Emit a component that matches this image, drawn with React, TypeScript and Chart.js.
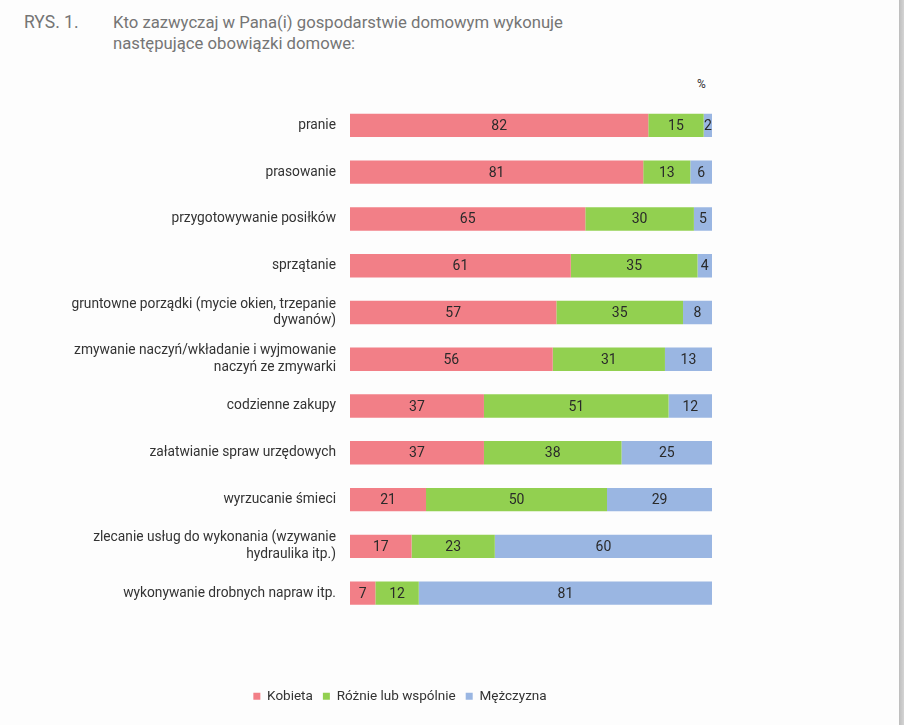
import React, { useEffect, useRef } from "react";
import { Chart, registerables } from "chart.js";

Chart.register(...registerables);

const categories: (string | string[])[] = [
  "pranie",
  "prasowanie",
  "przygotowywanie posiłków",
  "sprzątanie",
  ["gruntowne porządki (mycie okien, trzepanie", "dywanów)"],
  ["zmywanie naczyń/wkładanie i wyjmowanie", "naczyń ze zmywarki"],
  "codzienne zakupy",
  "załatwianie spraw urzędowych",
  "wyrzucanie śmieci",
  ["zlecanie usług do wykonania (wzywanie", "hydraulika itp.)"],
  "wykonywanie drobnych napraw itp.",
];

const kobieta = [82.4, 81, 65, 61, 57, 56, 37, 37, 21, 17, 7];
const roznie = [15.3, 13, 30, 35, 35, 31, 51, 38, 50, 23, 12];
const mezczyzna = [2.3, 6, 5, 4, 8, 13, 12, 25, 29, 60, 81];

const seriesNames = ["Kobieta", "Różnie lub wspólnie", "Mężczyzna"];
const seriesColors = ["#f27f87", "#92d050", "#9ab6e2"];

const FONT = "Roboto, 'Noto Sans', sans-serif";

const valueLabels = {
  id: "valueLabels",
  afterDatasetsDraw(chart: any) {
    const ctx = chart.ctx;
    ctx.save();
    ctx.font = `14px ${FONT}`;
    ctx.fillStyle = "#2a2a2a";
    ctx.textAlign = "center";
    ctx.textBaseline = "middle";
    chart.data.datasets.forEach((ds: any, di: number) => {
      const meta = chart.getDatasetMeta(di);
      meta.data.forEach((bar: any, i: number) => {
        const v = ds.data[i];
        const cx = (bar.x + bar.base) / 2;
        ctx.fillText(String(Math.round(v)), cx, bar.y + 1);
      });
    });
    ctx.restore();
  },
};

const legendShift = {
  id: "legendShift",
  afterLayout(chart: any) {
    if (chart.legend) {
      chart.legend.left = 88;
      chart.legend.right = 712;
    }
  },
};

export default function App() {
  const ref = useRef<HTMLCanvasElement | null>(null);
  useEffect(() => {
    if (!ref.current) return;
    const data = [kobieta, roznie, mezczyzna];
    const chart = new Chart(ref.current, {
      type: "bar",
      data: {
        labels: categories as any,
        datasets: seriesNames.map((n, i) => ({
          label: n,
          data: data[i],
          backgroundColor: seriesColors[i],
          borderWidth: 0,
          barPercentage: 0.5,
          categoryPercentage: 1,
        })),
      },
      options: {
        indexAxis: "y",
        animation: false,
        responsive: false,
        maintainAspectRatio: false,
        layout: { padding: { left: 0, right: 192, top: 102, bottom: 12 } },
        scales: {
          x: {
            stacked: true,
            min: 0,
            max: 100,
            display: true,
            grid: { display: false, drawTicks: false },
            border: { display: false },
            ticks: { display: false },
            afterFit: (s: any) => {
              s.height = 63;
            },
          },
          y: {
            stacked: true,
            grid: { display: false, drawTicks: false },
            border: { display: false },
            ticks: {
              padding: 14,
              color: "#333333",
              font: { family: FONT, size: 13.75, lineHeight: 1.22 },
            },
            afterFit: (s: any) => {
              s.width = 350;
            },
          },
        },
        plugins: {
          legend: {
            position: "bottom",
            labels: {
              boxWidth: 7,
              boxHeight: 7,
              padding: 10,
              color: "#333333",
              font: { family: FONT, size: 13.5 },
            },
          },
          tooltip: { enabled: false },
        },
      },
      plugins: [valueLabels, legendShift],
    });
    return () => chart.destroy();
  }, []);

  return (
    <div
      style={{
        position: "fixed",
        left: 0,
        top: 0,
        width: 904,
        height: 725,
        background: "#fdfdfd",
        overflow: "hidden",
        fontFamily: FONT,
      }}
    >
      <div style={{ position: "absolute", left: 24, top: 12, fontSize: 17.5, color: "#757575", lineHeight: "21px" }}>
        RYS. 1.
      </div>
      <div style={{ position: "absolute", left: 113, top: 12, fontSize: 16.7, color: "#757575", lineHeight: "21px" }}>
        Kto zazwyczaj w Pana(i) gospodarstwie domowym wykonuje
        <br />
        następujące obowiązki domowe:
      </div>
      <div style={{ position: "absolute", left: 697, top: 77, fontSize: 12, color: "#333333" }}>%</div>
      <canvas ref={ref} width={904} height={725} style={{ position: "absolute", left: 0, top: 0 }} />
      <div
        style={{
          position: "absolute",
          right: 0,
          top: 0,
          width: 5,
          height: 725,
          background: "linear-gradient(to right, #bdbdbd, #d4d4d4)",
        }}
      />
    </div>
  );
}
